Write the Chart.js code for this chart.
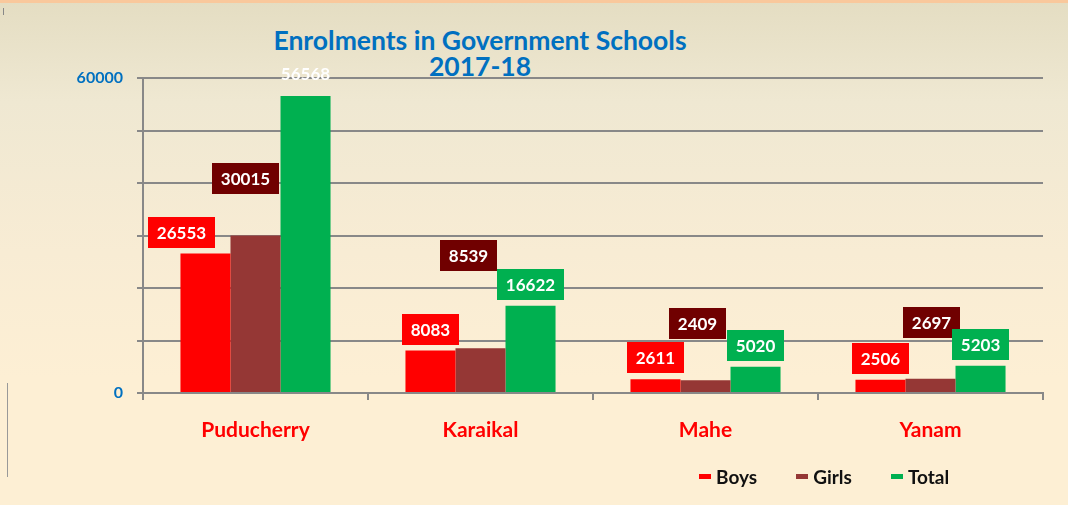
<!DOCTYPE html>
<html><head><meta charset="utf-8">
<script src="https://cdn.jsdelivr.net/npm/chart.js@4"></script>
<style>
html,body{margin:0;padding:0;}
body{width:1068px;height:505px;overflow:hidden;position:relative;
 background:linear-gradient(#e4ddc2 0%,#efe8d2 20%,#f8ecd4 50%,#fdefd4 75%,#fdefd4 100%);
 font-family:Lato,"DejaVu Sans",sans-serif;}
#topbar{position:absolute;left:0;top:0;width:1068px;height:3px;background:#f9c89c;}
#mark{position:absolute;left:3px;top:8px;width:1px;height:7px;background:#888;}
#leftline{position:absolute;left:7px;top:383px;width:1px;height:94px;background:#999;}
#title{position:absolute;left:0;top:27px;width:960px;text-align:center;color:#0070c0;
 font-weight:bold;font-size:26.5px;line-height:26px;}
#wrap{position:absolute;left:0;top:0;width:1068px;height:505px;}
#legend{position:absolute;left:699px;top:465px;display:flex;align-items:center;gap:39px;
 font-weight:bold;font-size:19px;color:#111;}
#legend .it{display:flex;align-items:center;}
#legend .mk{display:inline-block;width:12px;height:5px;margin-right:5px;}
</style></head>
<body>
<div id="topbar"></div>
<div id="mark"></div>
<div id="leftline"></div>
<div id="title">Enrolments in Government Schools<br>2017-18</div>
<div id="wrap"><canvas id="c" width="1068" height="505"></canvas></div>
<div id="legend"></div>
<script>
const categories = ['Puducherry', 'Karaikal', 'Mahe', 'Yanam'];
const seriesNames = ['Boys', 'Girls', 'Total'];
const boys = [26553, 8083, 2611, 2506];
const girls = [30015, 8539, 2409, 2697];
const total = [56568, 16622, 5020, 5203];
const yTickLabels = [0, 60000];

const barColors = ['#ff0000', '#953735', '#00b050'];
const boxColors = ['#ff0000', '#700000', '#00b050'];
// label offsets in px (horizontal shift, gap above bar top), per series per category
const labelDx = [[-24, 0, 0, 0], [-10, -12, -8, 1], [0, 0, 0, 0]];
const labelGap = [[6, 6, 6, 6], [41, 77, 41, 41], [7, 6, 6, 6]];
const labelNoBox = [[0, 0, 0, 0], [0, 0, 0, 0], [1, 0, 0, 0]];

const labelPlugin = {
  id: 'boxLabels',
  afterDatasetsDraw(chart) {
    const ctx = chart.ctx;
    ctx.save();
    ctx.font = 'bold 17px Lato, sans-serif';
    ctx.textAlign = 'center';
    ctx.textBaseline = 'middle';
    chart.data.datasets.forEach((ds, i) => {
      const meta = chart.getDatasetMeta(i);
      meta.data.forEach((bar, j) => {
        const txt = String(ds.data[j]);
        const w = ctx.measureText(txt).width + 18;
        const h = 31;
        const cx = bar.x + labelDx[i][j];
        const bottom = bar.y - labelGap[i][j];
        if (!labelNoBox[i][j]) {
          ctx.fillStyle = boxColors[i];
          ctx.fillRect(Math.round(cx - w / 2), Math.round(bottom - h), Math.round(w), h);
        }
        ctx.fillStyle = '#ffffff';
        ctx.fillText(txt, cx, bottom - h / 2 + 1);
      });
    });
    ctx.restore();
  }
};

const seriesData = [boys, girls, total];
const chart = new Chart(document.getElementById('c'), {
  type: 'bar',
  data: {
    labels: categories,
    datasets: seriesNames.map((n, i) => ({
      label: n,
      data: seriesData[i],
      backgroundColor: barColors[i],
      borderWidth: 0,
      categoryPercentage: 0.667,
      barPercentage: 1.0
    }))
  },
  options: {
    responsive: false,
    devicePixelRatio: 1,
    animation: false,
    layout: { padding: { top: 78, right: 25, bottom: 0, left: 0 } },
    plugins: { legend: { display: false }, title: { display: false }, tooltip: { enabled: false } },
    scales: {
      x: {
        grid: { offset: true, drawOnChartArea: false, color: '#888', lineWidth: 2, tickLength: 7 },
        border: { color: '#888', width: 2 },
        ticks: { color: '#ff0000', font: { family: 'Lato', weight: 'bold', size: 21 }, padding: 18 },
        afterFit: s => { s.height = 112; }
      },
      y: {
        min: 0, max: 60000,
        grid: { color: '#888', lineWidth: 2, tickLength: 6 },
        border: { color: '#888', width: 2 },
        ticks: {
          stepSize: 10000,
          color: '#0070c0',
          font: { family: 'Lato', weight: 'bold', size: 16 },
          padding: 14,
          callback: v => yTickLabels.includes(v) ? String(v) : ''
        },
        afterFit: s => { s.width = 143; }
      }
    }
  },
  plugins: [labelPlugin]
});

const leg = document.getElementById('legend');
seriesNames.forEach((n, i) => {
  const it = document.createElement('div');
  it.className = 'it';
  const mk = document.createElement('span');
  mk.className = 'mk';
  mk.style.background = barColors[i];
  it.appendChild(mk);
  it.appendChild(document.createTextNode(n));
  leg.appendChild(it);
});
</script>
</body></html>
